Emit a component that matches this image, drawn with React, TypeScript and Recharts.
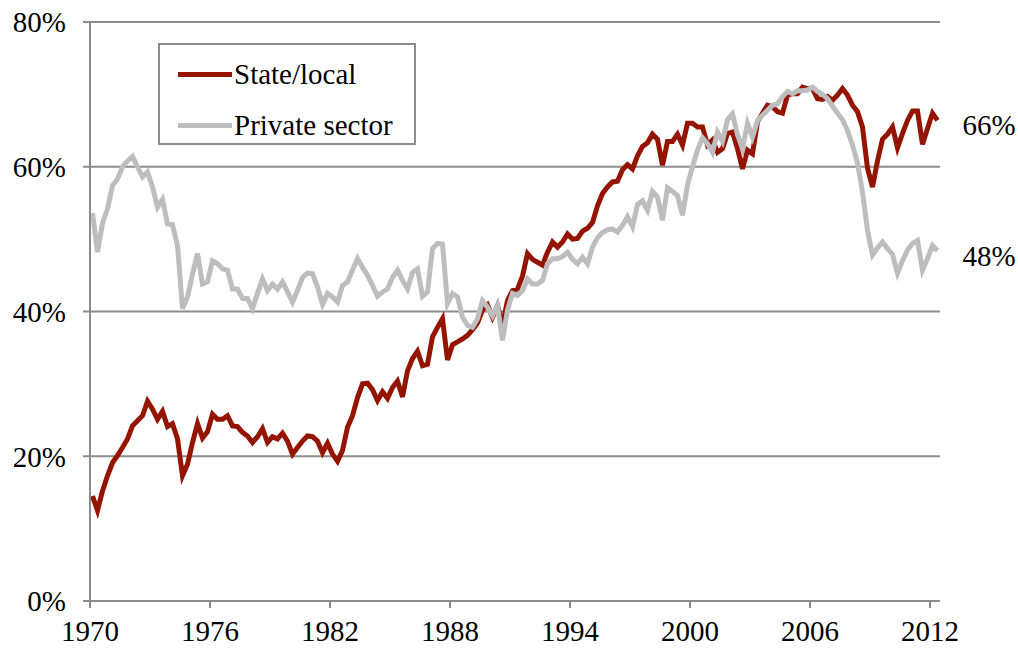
import React from 'react';
import { LineChart, Line, XAxis, YAxis, CartesianGrid, Legend } from 'recharts';

// Quarterly series, 1970 Q1 – 2012 Q2 (percent)
const stateLocal: number[] = [
  14.5, 12.5, 15.2, 17.3, 19.1, 20.1, 21.2, 22.4, 24.2, 24.9, 25.6, 27.6, 26.5, 25.1, 26.2, 24.1, 24.5, 22.4, 17.3, 18.9,
  21.9, 24.5, 22.5, 23.4, 25.8, 25.1, 25.1, 25.6,
  24.2, 24.1, 23.3, 22.8, 21.9, 22.7, 23.8, 21.9, 22.7, 22.4, 23.2, 22.1, 20.3, 21.2, 22.1, 22.8, 22.7, 22.1, 20.5, 21.8,
  20.3, 19.3, 20.8, 24.0, 25.6, 28.1, 30.0, 30.1,
  29.2, 27.7, 28.9, 28.0, 29.5, 30.4, 28.2, 31.8, 33.5, 34.5, 32.5, 32.7, 36.5, 37.8, 39.0, 33.3, 35.4, 35.8, 36.2, 36.7,
  37.5, 38.4, 40.2, 40.9, 39.2, 40.8, 38.1, 41.5,
  42.9, 43.1, 44.9, 48.0, 47.2, 46.8, 46.4, 48.2, 49.6, 48.9, 49.6, 50.7, 50.0, 50.1, 51.1, 51.5, 52.3, 54.6, 56.3, 57.2,
  57.9, 58.0, 59.6, 60.3, 59.7, 61.5, 62.8, 63.3, 64.5, 63.8, 60.2, 63.5, 63.5, 64.5, 63.0, 66.0,
  66.0, 65.5, 65.5, 63.0, 63.7, 62.0, 62.5, 64.6, 64.8, 62.5, 59.7, 62.3, 61.8, 66.2, 67.4, 68.5, 68.3, 67.6, 67.4, 69.9,
  70.1, 70.1, 71.0, 70.8, 70.8, 69.4, 69.3, 69.7, 69.2, 69.9, 70.8, 69.9, 68.5, 67.6, 65.5, 59.8, 57.2, 60.8, 63.8, 64.5,
  65.5, 62.6, 64.6, 66.4, 67.7, 67.7, 63.1, 65.3, 67.4, 66.4,
];

const privateSector: number[] = [
  53.6, 48.2, 52.2, 54.2, 57.4, 58.3, 60.0, 60.8, 61.4, 60.0, 58.6, 59.3, 57.2, 54.4, 55.5, 52.1, 52.0, 49.1, 40.4, 42.0,
  45.2, 48.0, 43.8, 44.1, 47.0, 46.6, 45.9, 45.7,
  43.1, 43.1, 41.8, 41.8, 40.4, 42.5, 44.5, 42.9, 43.8, 43.1, 44.1, 42.7, 41.3, 42.9, 44.7, 45.3, 45.2, 43.4, 41.0, 42.5,
  42.0, 41.3, 43.6, 44.1, 45.7, 47.3, 46.1, 45.0,
  43.6, 42.1, 42.7, 43.1, 44.7, 45.7, 44.3, 43.1, 45.4, 45.9, 42.1, 42.7, 48.7, 49.4, 49.3, 41.1, 42.5, 42.0, 39.2, 38.1,
  37.8, 39.0, 41.5, 40.6, 39.4, 40.8, 36.0, 40.2,
  42.5, 42.2, 42.9, 44.5, 43.8, 43.8, 44.3, 46.6, 47.3, 47.3, 47.6, 48.2, 47.2, 46.6, 47.5, 46.6, 48.9, 50.2, 50.9, 51.3,
  51.4, 51.0, 51.9, 53.1, 51.7, 54.8, 55.3, 54.0, 56.6, 55.8, 52.6, 57.1, 56.6, 56.0, 53.3, 57.5,
  60.0, 62.3, 64.0, 63.2, 62.0, 64.8, 63.5, 66.5, 67.3, 64.4, 62.5, 66.0, 64.1, 66.4, 67.1, 67.8, 68.5, 68.7, 69.7, 70.4,
  70.1, 70.5, 70.5, 70.6, 71.0, 70.4, 70.0, 69.4, 68.4, 67.4, 66.5, 65.0, 63.0, 60.5, 56.5, 51.2, 47.8, 48.8, 49.6, 48.7,
  47.9, 45.3, 47.0, 48.5, 49.4, 49.8, 45.7, 47.3, 49.1, 48.4,
];

const startYear = 1970;
const yearTicks = [1970, 1976, 1982, 1988, 1994, 2000, 2006, 2012];
const percentTicks = [0, 20, 40, 60, 80];
const stateName = 'State/local';
const privateName = 'Private sector';
const legendOrder = [stateName, privateName];

const data = stateLocal.map((v, i) => ({
  t: startYear + (i + 0.5) / 4,
  state: v,
  priv: privateSector[i],
}));

const FONT = '"Liberation Serif", "Times New Roman", serif';
const RED = '#951400';
const GRAY = '#bdbdbd';
const AXIS = '#8c8c8c';

const endLabel = (props: any) => {
  const { x, y, index, value } = props;
  if (index !== data.length - 1) return null;
  return (
    <text
      key={`end-${index}`}
      x={x + 25}
      y={y + 15}
      fill="#000"
      fontSize={29}
      fontFamily={FONT}
      textAnchor="start"
    >
      {`${Math.round(value)}%`}
    </text>
  );
};

const renderLegend = (props: any) => {
  const payload = [...(props.payload || [])].sort(
    (a: any, b: any) => legendOrder.indexOf(a.value) - legendOrder.indexOf(b.value)
  );
  return (
    <div
      style={{
        width: 258,
        height: 102,
        boxSizing: 'border-box',
        border: `2px solid ${AXIS}`,
        background: '#fff',
        position: 'relative',
        fontFamily: FONT,
        fontSize: 29,
        color: '#000',
      }}
    >
      {payload.map((entry: any, i: number) => (
        <div
          key={entry.value}
          style={{ position: 'absolute', left: 18, top: 13 + i * 51, height: 32, display: 'flex', alignItems: 'center' }}
        >
          <div style={{ width: 54, height: 5, background: entry.color }} />
          <span style={{ marginLeft: 2, lineHeight: '32px', whiteSpace: 'nowrap' }}>{entry.value}</span>
        </div>
      ))}
    </div>
  );
};

export default function App() {
  return (
    <div style={{ position: 'absolute', left: 0, top: 0, background: '#fff' }}>
      <LineChart
        width={1018}
        height={649}
        data={data}
        margin={{ top: 22, right: 78, left: 20, bottom: 18 }}
      >
        <CartesianGrid horizontal vertical={false} stroke={AXIS} strokeWidth={2} />
        <XAxis
          type="number"
          dataKey="t"
          domain={[1970, 2012.5]}
          ticks={yearTicks}
          allowDataOverflow
          height={30}
          tickSize={7}
          tickMargin={12}
          axisLine={{ stroke: AXIS, strokeWidth: 2 }}
          tickLine={{ stroke: AXIS, strokeWidth: 2 }}
          tick={{ fill: '#000', fontSize: 29, fontFamily: FONT }}
          interval={0}
        />
        <YAxis
          type="number"
          domain={[0, 80]}
          ticks={percentTicks}
          tickFormatter={(v: number) => `${v}%`}
          width={70}
          tickSize={7}
          tickMargin={17}
          axisLine={{ stroke: AXIS, strokeWidth: 2 }}
          tickLine={{ stroke: AXIS, strokeWidth: 2 }}
          tick={{ fill: '#000', fontSize: 29, fontFamily: FONT }}
          interval={0}
        />
        <Legend
          layout="vertical"
          align="center"
          verticalAlign="middle"
          content={renderLegend}
          wrapperStyle={{ left: 158, top: 43, width: 258, height: 102 }}
        />
        <Line
          type="linear"
          dataKey="state"
          name={stateName}
          stroke={RED}
          strokeWidth={5}
          dot={false}
          activeDot={false}
          isAnimationActive={false}
          label={endLabel}
        />
        <Line
          type="linear"
          dataKey="priv"
          name={privateName}
          stroke={GRAY}
          strokeWidth={5}
          dot={false}
          activeDot={false}
          isAnimationActive={false}
          label={endLabel}
        />
      </LineChart>
    </div>
  );
}
